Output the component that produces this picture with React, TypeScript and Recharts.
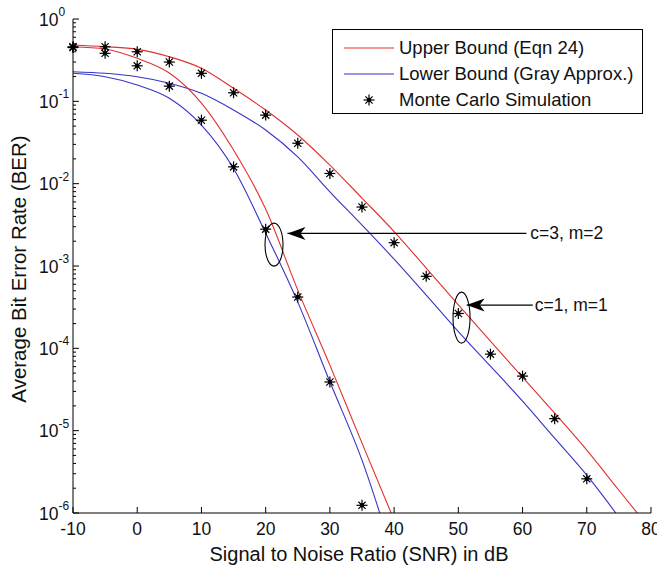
import React from 'react';
import {
  ComposedChart,
  Line,
  Scatter,
  XAxis,
  YAxis,
  Legend,
  ReferenceLine,
  ReferenceDot,
} from 'recharts';

const FONT = '"Liberation Sans", Arial, Helvetica, sans-serif';

// ---- data ----
const snrGrid = [-10, -5, 0, 5, 10, 15, 20, 25, 30, 35, 40, 45, 50, 55, 60, 65, 70, 75, 80];
// c=1, m=1
const upperC1 = [0.483, 0.461, 0.428, 0.348, 0.252, 0.144, 0.0784, 0.039, 0.0168, 0.00668, 0.00262, 9.43e-4, 3.38e-4, 1.22e-4, 4.47e-5, 1.63e-5, 5.8e-6, 1.89e-6, 6.2e-7];
const lowerC1 = [0.229, 0.219, 0.199, 0.166, 0.125, 0.0784, 0.0448, 0.0211, 0.00797, 0.00314, 0.00121, 4.43e-4, 1.6e-4, 6.08e-5, 2.28e-5, 8.1e-6, 2.88e-6, 8.9e-7];
// c=3, m=2
const upperC3 = [0.461, 0.432, 0.333, 0.221, 0.0953, 0.0256, 0.00491, 5.09e-4, 6.25e-5, 7.05e-6, 8.2e-7];
const lowerC3 = [0.219, 0.199, 0.158, 0.109, 0.0515, 0.0153, 0.00251, 3.64e-4, 3.92e-5, 4.38e-6, 2.8e-7];
// Monte Carlo simulation
const mcSnrC1 = [-10, -5, 0, 5, 10, 15, 20, 25, 30, 35, 40, 45, 50, 55, 60, 65, 70];
const mcC1 = [0.46, 0.46, 0.4, 0.3, 0.219, 0.127, 0.068, 0.031, 0.0133, 0.0052, 0.00192, 7.5e-4, 2.65e-4, 8.5e-5, 4.6e-5, 1.4e-5, 2.6e-6];
const mcSnrC3 = [-10, -5, 0, 5, 10, 15, 20, 25, 30, 35];
const mcC3 = [0.45, 0.383, 0.27, 0.153, 0.059, 0.016, 0.0028, 4.2e-4, 3.9e-5, 1.24e-6];

// ticks
const xTicks = [-10, 0, 10, 20, 30, 40, 50, 60, 70, 80];
const yMajorTicks = [1e-6, 1e-5, 1e-4, 1e-3, 1e-2, 1e-1, 1];
const yMinorMultipliers = [2, 3, 4, 5, 6, 7, 8, 9];
const yTicks = [
  ...yMajorTicks,
  ...yMajorTicks.slice(0, -1).flatMap((d) => yMinorMultipliers.map((m) => m * d)),
].sort((a, b) => a - b);

const legendNames = ['Upper Bound (Eqn 24)', 'Lower Bound (Gray Approx.)', 'Monte Carlo Simulation'];
const axisTitles = { x: 'Signal to Noise Ratio (SNR) in dB', y: 'Average Bit Error Rate (BER)' };

// annotations (data coordinates)
const annotations = [
  { label: 'c=3, m=2', tipX: 23.4, y: 2.49e-3, endX: 60.6, textX: 61.2, ellX: 21.3, ellY: 1.82e-3, rx: 9, ry: 21.5 },
  { label: 'c=1, m=1', tipX: 51.3, y: 3.35e-4, endX: 61.6, textX: 61.9, ellX: 50.5, ellY: 2.36e-4, rx: 8.5, ry: 25.5 },
];

const RED = '#e23030';
const BLUE = '#3434c8';

const toRows = (xs: number[], vs: number[]) => vs.map((v, i) => ({ snr: xs[i], v }));
const upperC1Data = toRows(snrGrid, upperC1);
const lowerC1Data = toRows(snrGrid, lowerC1);
const upperC3Data = toRows(snrGrid, upperC3);
const lowerC3Data = toRows(snrGrid, lowerC3);
const mcC1Data = toRows(mcSnrC1, mcC1);
const mcC3Data = toRows(mcSnrC3, mcC3);

const isMajor = (v: number) => Math.abs(Math.log10(v) - Math.round(Math.log10(v))) < 1e-9;

const Star = (props: any) => {
  const { cx, cy } = props;
  if (cx == null || cy == null) return null;
  const a = 5.5;
  const d = 3.6;
  return (
    <g stroke="#000" strokeWidth={1.2}>
      <line x1={cx - a} y1={cy} x2={cx + a} y2={cy} />
      <line x1={cx} y1={cy - a} x2={cx} y2={cy + a} />
      <line x1={cx - d} y1={cy - d} x2={cx + d} y2={cy + d} />
      <line x1={cx - d} y1={cy + d} x2={cx + d} y2={cy - d} />
      <circle cx={cx} cy={cy} r={1.6} fill="#000" />
    </g>
  );
};

const BottomTick = (props: any) => {
  const { x, y, payload } = props;
  return (
    <g>
      <line x1={x} y1={y} x2={x} y2={y - 6} stroke="#000" />
      <text x={x} y={y + 22} textAnchor="middle" fontSize={17.5} fill="#111" fontFamily={FONT}>
        {payload.value}
      </text>
    </g>
  );
};

const TopTick = (props: any) => {
  const { x, y } = props;
  return <line x1={x} y1={y} x2={x} y2={y + 6} stroke="#000" />;
};

const LeftTick = (props: any) => {
  const { x, y, payload } = props;
  const v = payload.value;
  const major = isMajor(v);
  const exp = Math.round(Math.log10(v));
  return (
    <g>
      <line x1={x} y1={y} x2={x + (major ? 6 : 3)} y2={y} stroke="#000" />
      {major && (
        <text x={x - 34} y={y + 6.5} fontSize={17.5} fill="#111" fontFamily={FONT}>
          10
          <tspan fontSize={12} dy={-9.5}>
            {String(exp)}
          </tspan>
        </text>
      )}
    </g>
  );
};

const RightTick = (props: any) => {
  const { x, y, payload } = props;
  const major = isMajor(payload.value);
  return <line x1={x} y1={y} x2={x - (major ? 6 : 3)} y2={y} stroke="#000" />;
};

const XTitle = (props: any) => {
  const vb = props.viewBox || { x: 73, y: 513, width: 578, height: 58 };
  return (
    <text x={vb.x + vb.width / 2 - 3} y={vb.y + 48} textAnchor="middle" fontSize={20} fill="#111" fontFamily={FONT}>
      {axisTitles.x}
    </text>
  );
};

const YTitle = (props: any) => {
  const vb = props.viewBox || { x: 0, y: 19, width: 73, height: 494 };
  const cx = vb.x + 26;
  const cy = vb.y + vb.height / 2 + 3;
  return (
    <text
      x={cx}
      y={cy}
      transform={`rotate(-90, ${cx}, ${cy})`}
      textAnchor="middle"
      fontSize={20.5}
      fill="#111"
      fontFamily={FONT}
    >
      {axisTitles.y}
    </text>
  );
};

const LegendBox = () => {
  const colors = [RED, BLUE, null];
  return (
    <div
      style={{
        width: 309,
        height: 83,
        border: '1px solid #000',
        background: '#fff',
        fontFamily: FONT,
        fontSize: 18.5,
        color: '#111',
        position: 'relative',
      }}
    >
      {legendNames.map((name, i) => (
        <div
          key={name}
          style={{
            position: 'absolute',
            top: 4.5 + i * 26.3,
            left: 0,
            height: 26,
            display: 'flex',
            alignItems: 'center',
            whiteSpace: 'nowrap',
          }}
        >
          <svg width={66} height={26} style={{ display: 'block' }}>
            {colors[i] ? (
              <line x1={11} y1={13} x2={61} y2={13} stroke={colors[i] as string} strokeWidth={1.2} />
            ) : (
              <Star cx={36} cy={13} />
            )}
          </svg>
          <span style={{ lineHeight: '26px' }}>{name}</span>
        </div>
      ))}
    </div>
  );
};

export default function App() {
  return (
    <div style={{ fontFamily: FONT, background: '#fff', width: 657, position: 'absolute', left: 0, top: 0 }}>
      <ComposedChart width={657} height={571} margin={{ top: 19, right: 6, bottom: 0, left: 0 }}>
        <XAxis
          dataKey="snr"
          type="number"
          domain={[-10, 80]}
          ticks={xTicks}
          interval={0}
          tickSize={0}
          tickMargin={0}
          tick={<BottomTick />}
          axisLine={{ stroke: '#000' }}
          height={58}
          label={(p: any) => <XTitle {...p} />}
        />
        <XAxis
          xAxisId="top"
          orientation="top"
          dataKey="snr"
          type="number"
          domain={[-10, 80]}
          allowDataOverflow
          ticks={xTicks}
          interval={0}
          tickSize={0}
          tickMargin={0}
          tick={<TopTick />}
          axisLine={{ stroke: '#000' }}
          height={0}
        />
        <YAxis
          scale="log"
          type="number"
          domain={[1e-6, 1]}
          allowDataOverflow
          ticks={yTicks}
          interval={0}
          tickSize={0}
          tickMargin={0}
          tick={<LeftTick />}
          axisLine={{ stroke: '#000' }}
          width={73}
          label={(p: any) => <YTitle {...p} />}
        />
        <YAxis
          yAxisId="right"
          orientation="right"
          scale="log"
          type="number"
          domain={[1e-6, 1]}
          allowDataOverflow
          ticks={yTicks}
          interval={0}
          tickSize={0}
          tickMargin={0}
          tick={<RightTick />}
          axisLine={{ stroke: '#000' }}
          width={0}
        />
        <YAxis yAxisId="mc" scale="log" type="number" domain={[1e-6, 1]} hide />

        <Line data={upperC1Data} dataKey="v" type="monotone" stroke={RED} strokeWidth={1.1} dot={false} isAnimationActive={false} />
        <Line data={lowerC1Data} dataKey="v" type="monotone" stroke={BLUE} strokeWidth={1.1} dot={false} isAnimationActive={false} />
        <Line data={upperC3Data} dataKey="v" type="monotone" stroke={RED} strokeWidth={1.1} dot={false} isAnimationActive={false} />
        <Line data={lowerC3Data} dataKey="v" type="monotone" stroke={BLUE} strokeWidth={1.1} dot={false} isAnimationActive={false} />

        <Scatter yAxisId="mc" data={mcC1Data} dataKey="v" shape={<Star />} isAnimationActive={false} />
        <Scatter yAxisId="mc" data={mcC3Data} dataKey="v" shape={<Star />} isAnimationActive={false} />

        {annotations.map((a) => (
          <ReferenceLine
            key={a.label + '-line'}
            segment={[
              { x: a.tipX, y: a.y },
              { x: a.endX, y: a.y },
            ]}
            stroke="#000"
            strokeWidth={1.2}
          />
        ))}
        {annotations.map((a) => (
          <ReferenceDot
            key={a.label + '-head'}
            x={a.tipX}
            y={a.y}
            shape={(p: any) => (
              <polygon
                points={`${p.cx},${p.cy} ${p.cx + 18},${p.cy - 6.5} ${p.cx + 13},${p.cy} ${p.cx + 18},${p.cy + 6.5}`}
                fill="#000"
              />
            )}
          />
        ))}
        {annotations.map((a) => (
          <ReferenceDot
            key={a.label + '-ell'}
            x={a.ellX}
            y={a.ellY}
            shape={(p: any) => (
              <ellipse cx={p.cx} cy={p.cy} rx={a.rx} ry={a.ry} fill="none" stroke="#000" strokeWidth={1.1} />
            )}
          />
        ))}
        {annotations.map((a) => (
          <ReferenceDot
            key={a.label + '-txt'}
            x={a.textX}
            y={a.y}
            shape={(p: any) => (
              <text x={p.cx} y={p.cy + 6} fontSize={17.5} fill="#111" fontFamily={FONT}>
                {a.label}
              </text>
            )}
          />
        ))}

        <Legend
          layout="vertical"
          align="center"
          verticalAlign="middle"
          content={() => <LegendBox />}
          wrapperStyle={{ top: 29, left: 332, width: 311, height: 85 }}
        />
      </ComposedChart>
    </div>
  );
}
